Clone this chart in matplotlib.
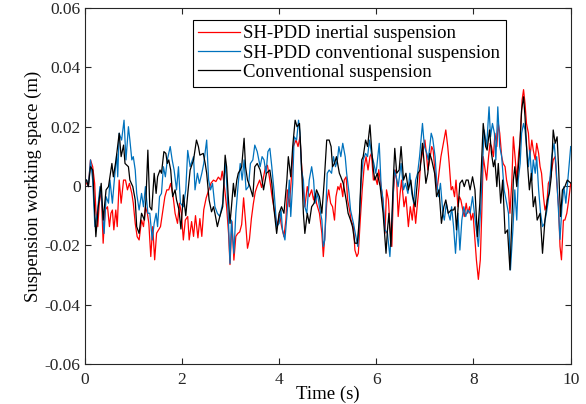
import numpy as np
import matplotlib
matplotlib.use("Agg")
import matplotlib.pyplot as plt

# suspension working space, values in mm (time s, mm)
red_pts = [(0.00, 2.0), (0.04, 0.9), (0.075, -0.2), (0.12, 8.8), (0.165, 6.5), (0.205, 0.9), (0.23, -8.1), (0.27, -13.7),
           (0.30, -5.8), (0.34, -1.3), (0.38, -19.3), (0.42, -8.1), (0.47, -7.0), (0.51, -13.7), (0.54, -9.2), (0.57, -8.1),
           (0.60, -14.8), (0.64, -8.1), (0.67, -13.7), (0.71, 2.0), (0.75, -5.8), (0.80, 2.0), (0.84, 2.0), (0.88, -1.3),
           (0.92, 0.9), (0.97, -2.5), (1.00, -5.8), (1.04, -12.6), (1.08, -17.1), (1.12, -18.2), (1.17, -11.5), (1.21, -13.7),
           (1.25, -7.0), (1.29, -9.2), (1.32, -12.6), (1.36, -23.8), (1.40, -13.7), (1.44, -24.9), (1.48, -15.9), (1.52, -14.8),
           (1.56, -13.7), (1.60, -9.2), (1.65, -3.6), (1.69, -1.3), (1.73, -1.3), (1.77, 0.9), (1.82, -3.6), (1.86, -9.2),
           (1.91, -12.6), (1.95, -5.8), (1.99, -9.2), (2.03, -18.2), (2.07, -11.5), (2.12, -10.3), (2.15, -18.2), (2.20, -12.0),
           (2.24, -17.0), (2.28, -10.0), (2.33, -17.5), (2.37, -11.0), (2.41, -17.0), (2.45, -8.0), (2.50, -4.0), (2.55, -1.5),
           (2.60, 1.0), (2.65, 2.0), (2.70, 1.5), (2.75, 3.0), (2.80, 2.0), (2.83, 5.0), (2.87, 0.5), (2.92, -7.0),
           (2.96, -16.0), (2.99, -26.5), (3.03, -12.0), (3.07, -25.0), (3.11, -17.0), (3.15, -16.0), (3.19, -15.5), (3.23, -13.0),
           (3.27, -4.0), (3.31, -12.0), (3.35, -21.0), (3.39, -18.0), (3.43, -11.0), (3.47, -6.0), (3.51, -2.0), (3.55, 0.0),
           (3.60, 2.0), (3.64, -0.5), (3.68, 3.0), (3.72, 6.5), (3.76, 7.0), (3.80, 3.0), (3.85, -3.0), (3.89, -7.0),
           (3.93, -11.0), (3.97, -13.0), (4.01, -9.5), (4.05, -13.5), (4.10, -17.1), (4.14, -11.5), (4.17, -1.3), (4.21, -7.0),
           (4.26, 4.3), (4.29, 13.3), (4.35, 15.5), (4.39, 13.3), (4.43, 16.6), (4.46, 7.6), (4.50, -1.3), (4.53, -7.0),
           (4.58, -0.2), (4.62, -3.6), (4.67, -1.3), (4.71, -4.7), (4.74, -2.5), (4.77, -5.8), (4.83, -9.2), (4.88, -15.9),
           (4.91, -23.8), (4.94, -17.1), (4.98, -5.8), (5.02, -1.3), (5.06, -5.8), (5.10, -7.0), (5.14, -11.5), (5.17, -3.6),
           (5.21, -0.2), (5.24, -1.3), (5.27, 0.9), (5.31, -3.6), (5.34, 2.0), (5.38, 3.1), (5.41, -4.7), (5.45, -8.1),
           (5.48, -11.5), (5.53, -13.7), (5.56, -21.6), (5.60, -23.8), (5.63, -22.7), (5.67, -11.5), (5.71, -1.3), (5.75, 6.5),
           (5.79, 9.9), (5.83, 5.4), (5.87, 9.9), (5.90, 11.0), (5.94, 2.0), (5.98, 3.0), (6.02, 0.5), (6.05, 5.5),
           (6.09, 1.0), (6.13, -4.0), (6.18, -15.9), (6.21, -1.3), (6.25, -4.7), (6.28, -13.7), (6.32, -20.4), (6.35, -2.5),
           (6.39, 5.4), (6.42, 2.0), (6.45, -10.3), (6.49, -2.5), (6.52, 2.0), (6.57, -7.0), (6.61, -3.6), (6.66, -13.7),
           (6.70, -7.0), (6.74, -11.5), (6.77, -5.8), (6.81, -12.6), (6.84, -7.0), (6.88, -0.2), (6.91, 7.6), (6.95, 11.0),
           (7.00, 15.5), (7.03, 11.0), (7.06, 5.4), (7.11, 9.9), (7.14, 13.3), (7.17, 12.1), (7.21, 4.3), (7.25, -1.3),
           (7.29, 4.3), (7.33, 9.9), (7.38, 14.4), (7.43, 18.9), (7.47, 13.3), (7.50, 7.6), (7.54, -1.3), (7.57, -0.2),
           (7.61, -3.6), (7.64, 2.0), (7.68, -7.0), (7.71, -3.6), (7.74, -4.7), (7.78, -8.1), (7.81, -10.3), (7.85, -5.8),
           (7.88, -9.2), (7.92, -7.0), (7.95, -11.5), (7.99, -9.2), (8.02, -15.9), (8.06, -25.0), (8.10, -31.5), (8.14, -24.9),
           (8.17, -9.2), (8.20, 9.9), (8.24, 5.4), (8.27, 2.0), (8.31, 9.9), (8.34, 14.4), (8.37, 13.3), (8.41, 9.9),
           (8.44, 17.8), (8.48, 13.3), (8.51, 21.1), (8.54, 17.8), (8.58, 9.9), (8.61, 7.6), (8.65, 6.5), (8.68, 2.0),
           (8.72, -1.3), (8.75, -9.2), (8.79, 2.0), (8.82, 16.6), (8.86, 8.8), (8.89, 2.0), (8.93, 11.0), (8.96, 15.5),
           (9.00, 29.0), (9.03, 32.5), (9.06, 27.8), (9.09, 21.1), (9.13, 17.8), (9.16, 9.9), (9.20, 15.5), (9.23, 12.1),
           (9.27, 8.8), (9.30, 14.4), (9.34, 11.0), (9.37, 6.5), (9.40, 4.3), (9.44, -3.6), (9.47, -8.1), (9.51, -5.8),
           (9.54, 0.9), (9.57, 2.0), (9.61, 5.4), (9.64, 8.8), (9.68, 9.9), (9.71, 2.0), (9.75, -7.0), (9.78, -20.4),
           (9.81, -24.9), (9.85, -11.5), (9.88, -11.5), (9.92, -9.2), (9.95, -5.8), (10.0, 0.9)]

blue_pts = [(0.00, 2.0), (0.04, 2.0), (0.075, -0.2), (0.12, 8.8), (0.165, 2.0), (0.21, -13.7), (0.26, -9.2), (0.315, -0.2),
            (0.35, -4.7), (0.40, -16.0), (0.44, -3.6), (0.49, -5.8), (0.52, 2.0), (0.57, -5.8), (0.61, 2.0), (0.66, 10.8),
            (0.68, 3.1), (0.71, 17.8), (0.76, 15.5), (0.81, 22.2), (0.85, 8.8), (0.90, 20.0), (0.93, 15.5), (0.97, 8.8),
            (1.00, 9.9), (1.04, 5.4), (1.07, -2.5), (1.12, -8.1), (1.17, -2.5), (1.21, -7.0), (1.25, -0.2), (1.30, -9.2),
            (1.34, -9.2), (1.39, -18.2), (1.43, -12.6), (1.47, -9.2), (1.50, -13.7), (1.54, -3.6), (1.58, -2.5), (1.62, 6.5),
            (1.66, 3.1), (1.70, 8.8), (1.76, 13.3), (1.80, 8.8), (1.84, 5.4), (1.89, -1.3), (1.93, 6.5), (1.97, -5.8),
            (2.03, -7.0), (2.08, -1.3), (2.12, 12.0), (2.17, 6.5), (2.24, 9.9), (2.27, -1.3), (2.32, 4.3), (2.36, 0.9),
            (2.41, 4.3), (2.45, 7.6), (2.51, 15.5), (2.55, 2.0), (2.59, -1.3), (2.63, 0.9), (2.68, -7.0), (2.73, -9.2),
            (2.78, -10.3), (2.84, -5.8), (2.89, 7.6), (2.92, 2.0), (2.96, -12.6), (2.99, -26.1), (3.02, -11.5), (3.07, -22.7),
            (3.11, -9.2), (3.16, 0.9), (3.20, 7.6), (3.24, 2.0), (3.28, 8.8), (3.32, -1.3), (3.37, -0.2), (3.41, 7.6),
            (3.46, 8.8), (3.50, 13.8), (3.55, 11.6), (3.61, 6.5), (3.65, 9.9), (3.69, 8.8), (3.73, 4.3), (3.77, 11.6),
            (3.81, 12.7), (3.85, 6.5), (3.90, -2.5), (3.95, -13.7), (4.00, -12.6), (4.04, -8.1), (4.07, -14.8), (4.12, -18.2),
            (4.17, -8.1), (4.21, 2.0), (4.24, -10.3), (4.28, 0.9), (4.31, 16.6), (4.36, 15.5), (4.40, 22.2), (4.43, 17.8),
            (4.46, 5.4), (4.50, 2.0), (4.53, -7.0), (4.57, -9.2), (4.62, 2.0), (4.67, 6.5), (4.71, 2.0), (4.74, -5.8),
            (4.79, -2.5), (4.83, -7.0), (4.88, -11.5), (4.91, -20.4), (4.94, -18.2), (4.99, 4.3), (5.03, 5.4), (5.08, 4.3),
            (5.12, 9.9), (5.16, 6.5), (5.20, 8.8), (5.23, 13.3), (5.27, 9.9), (5.31, 14.4), (5.36, 9.9), (5.39, 4.3),
            (5.44, -2.5), (5.47, -8.1), (5.53, -12.6), (5.58, -17.1), (5.62, -20.4), (5.65, -11.5), (5.69, 2.0), (5.73, 8.8),
            (5.78, 11.0), (5.82, 9.9), (5.86, 15.5), (5.90, 11.0), (5.95, 7.6), (5.99, 4.3), (6.01, 6.5), (6.06, 14.4),
            (6.10, -0.2), (6.14, -4.7), (6.18, -14.8), (6.23, -16.0), (6.28, -23.8), (6.33, -9.2), (6.37, 5.4), (6.41, 3.1),
            (6.45, -0.2), (6.51, 7.6), (6.56, -1.3), (6.60, 0.9), (6.65, -2.5), (6.69, 4.3), (6.73, -2.5), (6.77, -5.8),
            (6.81, 2.0), (6.85, 4.3), (6.89, 9.9), (6.92, 15.5), (6.95, 21.1), (6.99, 13.3), (7.04, 11.0), (7.07, 8.8),
            (7.13, 17.8), (7.16, 16.1), (7.21, 9.9), (7.24, 2.0), (7.28, -3.6), (7.32, 0.9), (7.37, -9.2), (7.40, -11.5),
            (7.44, -5.8), (7.48, -9.2), (7.52, -11.5), (7.55, -7.0), (7.59, -13.7), (7.63, -22.7), (7.68, -9.2), (7.72, -21.6),
            (7.76, -11.5), (7.80, -7.0), (7.84, -10.3), (7.88, -8.1), (7.93, -9.2), (7.98, -3.6), (8.05, -13.7), (8.10, -20.4),
            (8.15, -7.0), (8.19, 8.8), (8.22, 18.9), (8.27, 13.3), (8.32, 26.7), (8.35, 16.6), (8.39, 21.1), (8.43, 17.8),
            (8.46, 8.8), (8.50, 26.7), (8.54, 13.3), (8.58, 9.9), (8.63, -1.3), (8.67, -4.7), (8.72, -9.2), (8.76, -28.3),
            (8.81, -14.8), (8.85, -1.3), (8.89, -11.5), (8.92, 2.0), (8.96, 7.6), (8.99, 17.8), (9.03, 21.1), (9.06, 18.9),
            (9.09, 13.3), (9.13, 6.5), (9.16, 12.1), (9.20, 2.0), (9.23, 8.8), (9.27, 4.3), (9.30, 9.9), (9.34, -1.3),
            (9.38, -9.2), (9.42, -13.7), (9.46, -12.6), (9.50, -9.2), (9.54, -4.7), (9.57, 2.0), (9.61, 9.9), (9.66, 14.4),
            (9.70, 6.5), (9.73, -2.5), (9.78, -18.0), (9.82, -7.0), (9.86, -0.2), (9.90, -5.8), (9.94, 2.0), (10.0, 13.3)]

black_pts = [(0.00, 2.0), (0.04, 2.0), (0.075, -0.2), (0.12, 6.5), (0.165, 5.4), (0.23, -17.1), (0.28, -7.0), (0.34, 0.9),
             (0.38, -11.5), (0.44, -1.3), (0.49, -0.2), (0.56, 7.6), (0.59, 3.1), (0.645, 8.8), (0.71, 17.8), (0.75, 9.9),
             (0.80, 13.8), (0.83, 7.6), (0.90, 6.5), (0.93, 2.0), (0.99, -0.2), (1.04, -4.7), (1.07, -13.7), (1.12, -16.0),
             (1.17, -9.2), (1.23, -11.5), (1.26, -4.7), (1.30, 12.1), (1.34, -7.0), (1.38, -8.1), (1.43, 4.3), (1.47, -2.5),
             (1.50, 3.1), (1.55, 5.4), (1.58, 4.3), (1.63, 11.6), (1.67, 11.0), (1.70, 7.6), (1.73, 8.8), (1.77, 5.4),
             (1.81, -3.6), (1.86, -1.3), (1.89, -4.7), (1.94, -8.0), (1.98, -14.5), (2.03, -3.0), (2.08, -10.0), (2.13, -1.0),
             (2.17, 5.4), (2.24, 8.8), (2.30, 15.5), (2.34, 13.3), (2.37, 10.4), (2.44, 11.0), (2.48, 7.6), (2.51, 4.3),
             (2.56, -4.7), (2.61, -8.7), (2.65, -7.0), (2.68, -9.2), (2.73, -13.7), (2.78, -10.3), (2.84, -7.0), (2.89, 10.4),
             (2.92, 6.5), (2.95, -2.5), (2.99, -12.6), (3.02, -7.0), (3.06, 0.9), (3.09, -3.6), (3.13, 2.0), (3.16, 4.3),
             (3.20, 5.4), (3.23, 6.5), (3.28, 16.1), (3.31, 6.5), (3.35, 2.0), (3.40, -0.2), (3.46, -3.6), (3.50, 6.5),
             (3.55, 7.6), (3.61, 5.4), (3.64, 3.1), (3.68, -1.3), (3.74, 4.3), (3.81, 5.4), (3.85, 0.9), (3.89, -7.0),
             (3.95, -16.0), (4.00, -9.2), (4.05, -7.0), (4.10, -9.2), (4.16, 2.0), (4.19, 9.9), (4.24, 3.1), (4.28, 13.3),
             (4.33, 22.2), (4.37, 20.0), (4.42, 21.1), (4.46, 7.6), (4.50, -9.2), (4.53, -16.0), (4.58, -9.2), (4.62, -12.6),
             (4.67, -7.0), (4.72, -5.8), (4.77, -1.3), (4.83, -3.6), (4.88, -9.2), (4.93, 2.0), (4.98, 15.5), (5.03, 15.5),
             (5.07, 13.3), (5.10, 6.5), (5.14, 7.6), (5.18, 9.9), (5.24, 4.3), (5.27, 3.1), (5.32, 0.9), (5.38, -4.7),
             (5.42, -9.2), (5.47, -11.5), (5.51, -13.7), (5.56, -19.3), (5.61, -19.3), (5.65, -11.5), (5.70, 8.8), (5.73, 9.9),
             (5.78, 15.5), (5.82, 13.3), (5.87, 20.6), (5.90, 13.3), (5.94, 5.4), (5.97, 2.0), (6.02, 4.3), (6.08, -0.2),
             (6.14, -9.2), (6.20, -22.7), (6.23, -14.8), (6.26, -9.2), (6.30, -20.4), (6.35, 2.0), (6.38, 12.7), (6.42, 4.3),
             (6.47, 5.4), (6.51, 13.3), (6.56, 2.0), (6.61, 4.3), (6.66, -1.3), (6.71, 2.0), (6.75, -3.6), (6.80, -7.0),
             (6.83, -1.3), (6.86, 4.3), (6.90, 5.4), (6.95, 14.4), (6.99, 6.5), (7.02, 0.9), (7.06, 4.3), (7.10, 11.0),
             (7.14, 8.8), (7.20, 4.3), (7.24, -3.6), (7.29, -1.3), (7.34, -12.6), (7.39, -7.0), (7.43, -4.7), (7.48, -9.2),
             (7.54, -8.1), (7.59, -8.1), (7.62, -7.0), (7.65, -14.8), (7.69, -5.8), (7.72, 0.9), (7.77, 2.0), (7.81, -0.2),
             (7.85, 2.0), (7.89, 2.0), (7.93, -1.3), (7.98, 3.1), (8.03, -1.3), (8.08, -17.1), (8.13, -5.8), (8.20, 21.1),
             (8.25, 13.3), (8.28, 12.1), (8.33, 18.9), (8.37, 11.0), (8.41, 6.5), (8.44, 8.8), (8.48, -0.2), (8.51, 7.6),
             (8.56, -5.8), (8.60, 2.0), (8.65, -16.0), (8.70, -14.8), (8.75, -28.3), (8.79, -11.5), (8.82, 2.0), (8.85, 6.5),
             (8.89, -0.2), (8.94, 9.9), (8.99, 25.6), (9.03, 30.1), (9.06, 23.4), (9.11, 7.6), (9.15, -1.3), (9.19, 4.3),
             (9.23, -7.0), (9.27, -3.6), (9.31, -11.5), (9.37, -9.2), (9.42, -22.7), (9.47, -11.5), (9.52, -4.7), (9.56, -2.5),
             (9.60, 3.1), (9.64, 18.9), (9.68, 14.4), (9.72, 16.6), (9.75, 6.5), (9.79, -10.3), (9.83, -1.3), (9.88, -0.2),
             (9.93, 2.0), (10.0, 1.0)]

labels = ["SH-PDD inertial suspension", "SH-PDD conventional suspension", "Conventional suspension"]
colors = ["#FF0000", "#0072BD", "#000000"]

x_ticks = [0, 2, 4, 6, 8, 10]
y_ticks = [-0.06, -0.04, -0.02, 0, 0.02, 0.04, 0.06]
y_tick_labels = ["-0.06", "-0.04", "-0.02", "0", "0.02", "0.04", "0.06"]

plt.rcParams['font.family'] = 'Liberation Serif'
plt.rcParams['axes.unicode_minus'] = False
plt.rcParams['xtick.direction'] = 'in'
plt.rcParams['ytick.direction'] = 'in'
plt.rcParams['xtick.top'] = True
plt.rcParams['ytick.right'] = True

fig = plt.figure(figsize=(5.86, 4.04), dpi=100)
ax = fig.add_axes([0.1445, 0.0993, 0.8294, 0.8806])

for pts, c, lab in zip([red_pts, blue_pts, black_pts], colors, labels):
    t, v = zip(*pts)
    ax.plot(t, np.array(v) / 1000.0, color=c, lw=0.9, label=lab)

ax.set_xlim(0, 10)
ax.set_ylim(-0.06, 0.06)
ax.set_xticks(x_ticks)
ax.set_yticks(y_ticks)
ax.set_yticklabels(y_tick_labels)
ax.tick_params(labelsize=12.5, length=4, width=0.8, colors='#262626', pad=3)
ax.tick_params(axis='x', pad=6)
for s in ax.spines.values():
    s.set_linewidth(0.8)
    s.set_color('#262626')

ax.set_xlabel("Time (s)", fontsize=13.5, labelpad=-2)
ax.set_ylabel("Suspension working space (m)", fontsize=13.5, labelpad=2)

leg = ax.legend(loc='upper right', bbox_to_anchor=(0.867, 0.968), borderaxespad=0,
                fontsize=13.5, frameon=True, fancybox=False, framealpha=1,
                handlelength=2.2, handletextpad=0.2, borderpad=0.3, labelspacing=0.12)
leg.get_frame().set_edgecolor('black')
leg.get_frame().set_linewidth(0.8)

fig.savefig("out.png", dpi=100)
